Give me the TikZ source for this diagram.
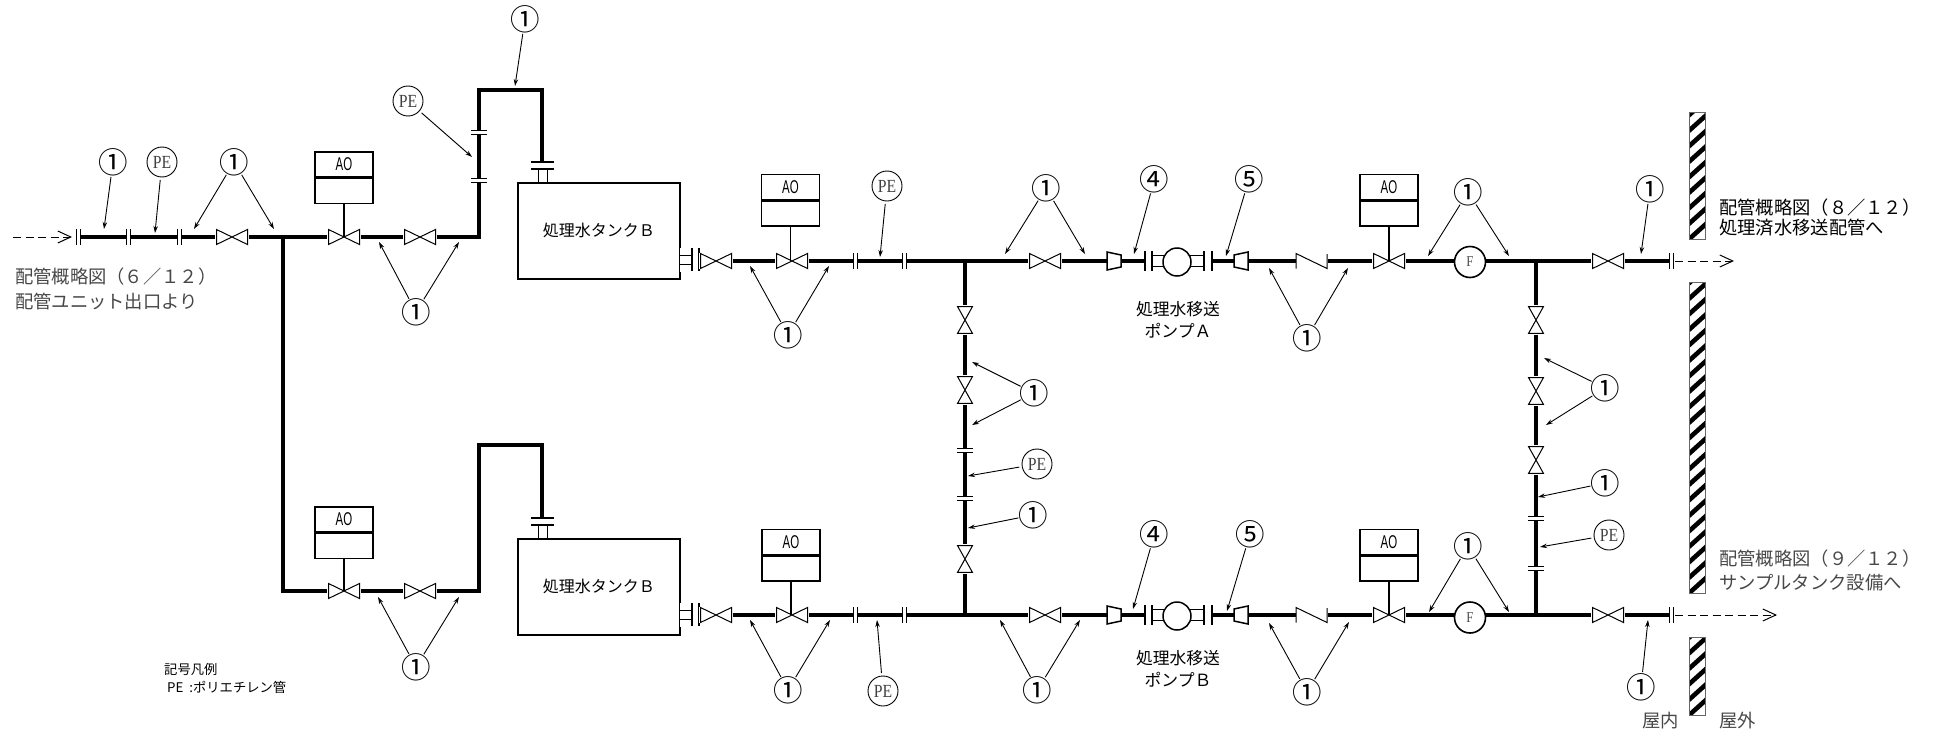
\documentclass[tikz,border=0pt]{standalone}
\usepackage{fontspec}
\usetikzlibrary{arrows.meta}
\newfontfamily\cjk{Noto Sans CJK JP}
\newfontfamily\pefont[FakeStretch=0.85]{Liberation Serif}
\newfontfamily\aofont[FakeStretch=0.62]{Liberation Sans}
\tikzset{
  pipe/.style={line width=4pt},
  thin line/.style={line width=1pt},
  box line/.style={line width=1.5pt},
  leader/.style={line width=0.9pt,-{Stealth[length=7pt,width=4.5pt]}},
  flow/.style={line width=1pt,dash pattern=on 8pt off 4.5pt,-{Straight Barb[length=13pt,width=12pt]}},
  numtag/.style={circle,inner sep=-3.8pt,font=\cjk\fontsize{29.5pt}{29.5pt}\selectfont},
  petag/.style={circle,draw,line width=0.9pt,minimum size=30pt,inner sep=0pt,outer sep=3pt,text=black!75,font=\pefont\fontsize{18.5pt}{18.5pt}\selectfont},
  meter/.style={circle,draw,fill=white,line width=1.6pt,minimum size=31pt,inner sep=0pt,text=black!70,font=\pefont\fontsize{15pt}{15pt}\selectfont},
  aotop/.style={rectangle,draw,box line,minimum width=58pt,minimum height=25pt,inner sep=0pt,font=\aofont\fontsize{18.5pt}{18.5pt}\selectfont},
  aobot/.style={rectangle,draw,box line,minimum width=58pt,minimum height=25pt,inner sep=0pt},
  gothic/.style={anchor=west,inner sep=0pt,font=\cjk\fontsize{18.3pt}{20pt}\selectfont},
  mincho/.style={gothic,text=black!72},
  small/.style={anchor=west,inner sep=0pt,font=\cjk\fontsize{13.3pt}{15pt}\selectfont},
  tanktext/.style={inner sep=0pt,font=\cjk\fontsize{16pt}{18pt}\selectfont},
  pumptext/.style={inner sep=0pt,font=\cjk\fontsize{16.8pt}{18pt}\selectfont},
  valve/.pic={
    \fill[white] (-17,-8) rectangle (17,8);
    \draw[thin line] (-15.5,-7.5) -- (15.5,7.5) -- (15.5,-7.5) -- (-15.5,7.5) -- cycle;
  },
  flange/.pic={
    \fill[white] (-2,-8) rectangle (2,8);
    \draw[thin line] (-2,-8) -- (-2,8);
    \draw[thin line] (2,-8) -- (2,8);
  },
  nozzle/.pic={
    \fill[white] (1,-12) rectangle (21,12);
    \draw[thin line] (0,-4.5) -- (13,-4.5);
    \draw[thin line] (0,4.5) -- (13,4.5);
    \draw[box line] (13,-11.5) -- (13,11.5);
    \draw[box line] (20,-11.5) -- (20,11.5);
  },
  reducer/.pic={
    \draw[box line,fill=white] (-7,-9) -- (7,-6) -- (7,6) -- (-7,9) -- cycle;
  },
  pump/.pic={
    \fill[white] (-33,-11) rectangle (34,11);
    \foreach \x in {-33,-26,26,34}
    {
    \draw[box line] (\x,-10) -- (\x,10);
    }
    \foreach \y in {-5.5,5.5}
    {
    \draw[box line] (-26,\y) -- (26,\y);
    }
    \draw[box line,fill=white] (-1,1) circle (14);
  },
  checker/.pic={
    \fill[white] (-16,-7) rectangle (16,7);
    \draw[thin line] (-15.5,7.5) -- (-15.5,-7.5) -- (15.5,7.5) -- (15.5,-7);
  },
}
\begin{document}
\begin{tikzpicture}[x=1pt,y=-1pt]
\useasboundingbox (0,0) rectangle (1939,736);

%Pipe Points
\foreach \cname/\x/\y in {inlet/78/237,teeL/283/237,riseA/479/237,overAa/479/90,overAb/542/90,nozzA/542/162,
  cornB/283/591,riseB/479/591,overBa/479/445,overBb/542/445,nozzB/542/517,
  startA/716/261,endA/1670/261,startB/716/615,endB/1670/615,
  crossAa/965/261,crossAb/965/615,crossBa/1536/261,crossBb/1536/615,
  flowIn/13/237,flowInE/72/237,flowA/1675/261,flowAE/1734/261,flowB/1675/615,flowBE/1777/615}
{
\coordinate (\cname) at (\x,\y);
}

%Walls
\foreach \wa/\wb in {112/239,282/593,637/715}
{
\begin{scope}
\clip (1689,\wa) rectangle (1705,\wb);
\foreach \s in {0,15.5,...,340}
{
\draw [line width=4.6pt] (1687,\wb-\s+2) -- (1707,\wb-\s-16);
}
\end{scope}
\draw [line width=0.8pt,black!60] (1689,\wa) rectangle (1705,\wb);
}

%Pipes
\draw [pipe] (inlet) -- (riseA) -- (overAa) -- (overAb) -- (nozzA);
\draw [pipe] (teeL) -- (cornB) -- (riseB) -- (overBa) -- (overBb) -- (nozzB);
\draw [pipe] (startA) -- (endA);
\draw [pipe] (startB) -- (endB);
\draw [pipe] (crossAa) -- (crossAb);
\draw [pipe] (crossBa) -- (crossBb);

%Flow Lines
\draw [flow] (flowIn) -- (flowInE);
\draw [flow] (flowA) -- (flowAE);
\draw [flow] (flowB) -- (flowBE);

%Tanks
\foreach \tname/\y in {A/182,B/538}
{
\node [draw,box line,minimum width=162pt,minimum height=96pt,inner sep=0pt,anchor=north west,tanktext] (tank\tname) at (517,\y) {処理水タンクＢ};
}
\pic at (679,259.5) {nozzle};
\pic at (679,614.5) {nozzle};
\pic [rotate=90] at (542.5,182) {nozzle};
\pic [rotate=90] at (542.5,538) {nozzle};

%Valves
\foreach \x/\y in {232/237,344/237,420/237,344/591,420/591}
{
\pic at (\x,\y) {valve};
}
\foreach \x in {716,792,1045,1389,1608}
\foreach \y in {261,615}
{
\pic at (\x,\y) {valve};
}
\foreach \x/\y in {965/320,965/390,965/559,1536/320,1536/391,1536/460}
{
\pic [rotate=90,xscale=.87] at (\x,\y) {valve};
}

%Flanges
\foreach \x/\y in {78/237,128/237,179/237,855/261,904/261,855/615,904/615,1671/261,1671/615}
{
\pic at (\x,\y) {flange};
}
\foreach \x/\y in {479/132,479/180,965/450,965/498,1536/518,1536/568}
{
\pic [rotate=90] at (\x,\y) {flange};
}

%Pumps
\foreach \y in {261,615}
{
\pic at (1114,\y) {reducer};
\pic [rotate=180] at (1241,\y) {reducer};
\pic at (1178,\y) {pump};
\pic at (1311.5,\y) {checker};
}

%Flow Meters
\node [meter] (meterA) at (1470,262) {F};
\node [meter] (meterB) at (1470,617.5) {F};

%Actuators
\foreach \aname/\x/\y/\vy in {aoa/344/164.5/237,aob/344/519.5/591,aoc/790.5/187/261,aod/791/542/615,aoe/1389/187/261,aof/1389/542/615}
{
\node [aotop] (\aname t) at (\x,\y) {AO};
\node [aobot,anchor=north] (\aname b) at (\aname t.south) {};
\coordinate (\aname v) at (\x,\vy);
\draw [box line] (\aname b.south) -- (\aname v);
}

%Number Labels
\foreach \lname/\x/\y/\ltext in {na/113/162/①,nb/234/162/①,nc/525/19/①,nd/416/312/①,ne/788/335/①,nf/1046/188/①,
  ng/1154.5/179/④,nh/1249/179/⑤,ni/1307/338/①,nj/1468/192/①,nk/1650/189/①,nl/1034/393/①,nm/1605/388/①,
  nn/1605/483/①,no/1033/515/①,np/416/667/①,nq/788/690/①,nr/1037.5/690/①,ns/1154.5/534/④,nt/1250/534/⑤,
  nu/1307/692/①,nv/1468/546/①,nw/1641/687/①}
{
\node [numtag] (\lname) at (\x,\y) {\ltext};
}
\foreach \lname/\x/\y in {pa/162/162,pb/408/101,pc/887/186,pd/1609/535,pe/1037/464,pf/883/691}
{
\node [petag] (\lname) at (\x,\y) {PE};
}

%Leaders
\foreach \lname/\x/\y in {na/104/229,pa/155/233,nb/194/229,nb/274/229,nc/515/86,pb/472/157,nd/379/242,nd/459/242,
  ne/750/266,ne/829/266,pc/880/257,nf/1005/254,nf/1085/254,ng/1134/254,nh/1226/256,ni/1269/268,ni/1348/268,
  nj/1428/256,nj/1509/256,nk/1641/254,nl/972/362,nl/972/425,nm/1544/358,nm/1546/425,nn/1538/497,pd/1540/547,
  pe/968/476,no/968/528,np/378/597,np/459/597,nq/750/620,nq/830/620,pf/877/620,nr/1000/620,nr/1080/620,
  ns/1133/609,nt/1227/611,nu/1269/623,nu/1349/622,nv/1429/612,nv/1509/612,nw/1648/620}
{
\coordinate (\lname tip\x) at (\x,\y);
\draw [leader] (\lname) -- (\lname tip\x);
}

%Texts
\node [mincho] (fromA) at (15,277) {配管概略図（６／１２）};
\node [mincho] (fromB) at (15,302) {配管ユニット出口より};
\node [gothic] (toA) at (1719,208) {配管概略図（８／１２）};
\node [gothic] (toB) at (1719,228) {処理済水移送配管へ};
\node [mincho] (toC) at (1719,559) {配管概略図（９／１２）};
\node [mincho] (toD) at (1719,583) {サンプルタンク設備へ};
\node [mincho] (inside) at (1642,721) {屋内};
\node [mincho] (outside) at (1719,721) {屋外};
\node [pumptext] (pumpAa) at (1178,309) {処理水移送};
\node [pumptext] (pumpAb) at (1178,331) {ポンプＡ};
\node [pumptext] (pumpBa) at (1178,658) {処理水移送};
\node [pumptext] (pumpBb) at (1178,680) {ポンプＢ};
\node [small] (legendA) at (164,669) {記号凡例};
\node [small] (legendB) at (167,687) {PE\ \ :ポリエチレン管};

\end{tikzpicture}
\end{document}
